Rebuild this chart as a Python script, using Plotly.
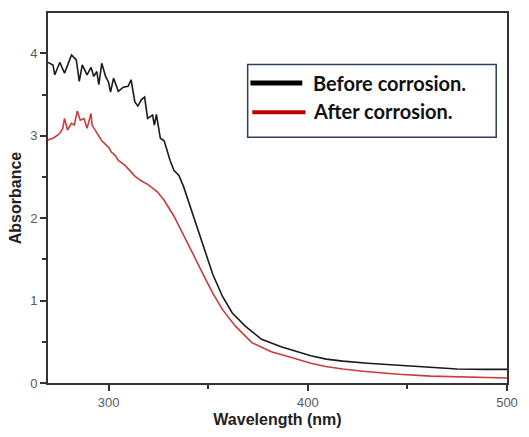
import plotly.graph_objects as go

# Before corrosion (black)
before_nm = [269.6, 272.1, 273.0, 275.5, 277.9, 281.4, 283.8, 285.3, 286.8, 289.2,
             291.2, 292.6, 294.1, 295.1, 296.6, 298.5, 300.0, 301.0, 302.5, 304.9,
             307.4, 309.8, 311.3, 313.2, 314.7, 316.5, 318.1, 319.6, 322.1, 323.0,
             324.0, 326.0, 327.9, 329.4, 330.9, 332.8, 335.3, 337.7, 339.2, 342.5,
             345.7, 349.0, 352.3, 357.2, 362.1, 368.6, 376.8, 386.6, 393.1, 401.5,
             409.3, 417.6, 430.0, 445.6, 461.8, 475.0, 489.7, 500.0]
before_abs = [3.89, 3.86, 3.74, 3.89, 3.76, 3.98, 3.92, 3.66, 3.86, 3.74,
              3.83, 3.72, 3.78, 3.62, 3.88, 3.72, 3.65, 3.53, 3.70, 3.54,
              3.59, 3.60, 3.68, 3.41, 3.36, 3.44, 3.47, 3.21, 3.25, 3.13,
              3.26, 2.97, 2.94, 2.82, 2.70, 2.58, 2.52, 2.38, 2.27, 2.03,
              1.80, 1.56, 1.32, 1.05, 0.85, 0.69, 0.53, 0.44, 0.39, 0.33,
              0.29, 0.265, 0.24, 0.215, 0.185, 0.17, 0.165, 0.165]

# After corrosion (red)
after_nm = [269.6, 272.1, 274.0, 275.5, 277.0, 277.9, 279.4, 281.4, 282.8, 284.3,
            285.8, 287.7, 289.2, 291.2, 291.7, 294.1, 296.6, 300.0, 301.5, 303.4,
            304.9, 308.3, 311.3, 313.2, 316.0, 319.6, 324.5, 327.8, 332.7, 337.6,
            342.5, 347.4, 352.3, 357.2, 363.7, 371.9, 381.7, 393.1, 401.5, 409.0,
            417.6, 428.9, 445.6, 461.8, 478.0, 500.0]
after_abs = [2.95, 2.97, 3.00, 3.03, 3.09, 3.21, 3.07, 3.15, 3.13, 3.30,
             3.19, 3.21, 3.09, 3.27, 3.13, 3.03, 2.94, 2.86, 2.80, 2.76,
             2.70, 2.64, 2.56, 2.51, 2.46, 2.41, 2.32, 2.22, 2.03, 1.80,
             1.56, 1.32, 1.09, 0.89, 0.69, 0.49, 0.38, 0.30, 0.24, 0.20,
             0.17, 0.14, 0.106, 0.083, 0.07, 0.06]

x_ticks = [300, 400, 500]
y_ticks = [0, 1, 2, 3, 4]
legend_labels = ["Before corrosion.", "After corrosion."]

fig = go.Figure()
fig.add_trace(go.Scatter(x=before_nm, y=before_abs, mode="lines",
                         line=dict(color="#1a1a1a", width=1.6), showlegend=False))
fig.add_trace(go.Scatter(x=after_nm, y=after_abs, mode="lines",
                         line=dict(color="#cc3b3b", width=1.6), showlegend=False))

axis_common = dict(showline=True, linewidth=2, linecolor="#333333", mirror=True,
                   ticks="outside", ticklen=6, tickwidth=2, tickcolor="#333333",
                   showgrid=False, zeroline=False, ticklabeloverflow="allow",
                   tickfont=dict(family="Liberation Sans, Arial", size=13, color="#5a5a5a"))

fig.update_xaxes(range=[269.6, 500], tickvals=x_ticks,
                 minor=dict(dtick=50, tick0=0, ticks="outside", ticklen=4, tickwidth=2,
                            tickcolor="#333333"),
                 title=dict(text="<b>Wavelength (nm)</b>", standoff=5,
                            font=dict(family="Liberation Sans, Arial", size=16, color="#222222")),
                 **axis_common)
fig.update_yaxes(range=[0, 4.49], tickvals=y_ticks,
                 minor=dict(dtick=0.5, tick0=0, ticks="outside", ticklen=4, tickwidth=2,
                            tickcolor="#333333"),
                 title=dict(text="<b>Absorbance</b>", standoff=5,
                            font=dict(family="Liberation Sans, Arial", size=16, color="#222222")),
                 **axis_common)

# Legend box drawn manually
fig.add_shape(type="rect", xref="paper", yref="paper", x0=0.435, x1=0.9765, y0=0.664, y1=0.861,
              line=dict(color="#2f3f5f", width=1.5), fillcolor="white")
fig.add_shape(type="line", xref="paper", yref="paper", x0=0.441, x1=0.554, y0=0.811, y1=0.811,
              line=dict(color="#000000", width=5))
fig.add_shape(type="line", xref="paper", yref="paper", x0=0.445, x1=0.561, y0=0.732, y1=0.732,
              line=dict(color="#c00000", width=4))
for label, yy in zip(legend_labels, [0.811, 0.734]):
    fig.add_annotation(xref="paper", yref="paper", x=0.574, y=yy, text="<b>" + label + "</b>",
                       showarrow=False, xanchor="left", yanchor="middle",
                       font=dict(family="Lato", size=20, color="#111111"))

fig.update_layout(width=529, height=437, margin=dict(l=48, r=12, t=11, b=45),
                  paper_bgcolor="white", plot_bgcolor="white")

# remove the default page margin so the figure fills the window exactly
fig.write_html("out.html", config={"displayModeBar": False},
               post_script="document.body.style.margin='0px';document.body.style.overflow='hidden';")
